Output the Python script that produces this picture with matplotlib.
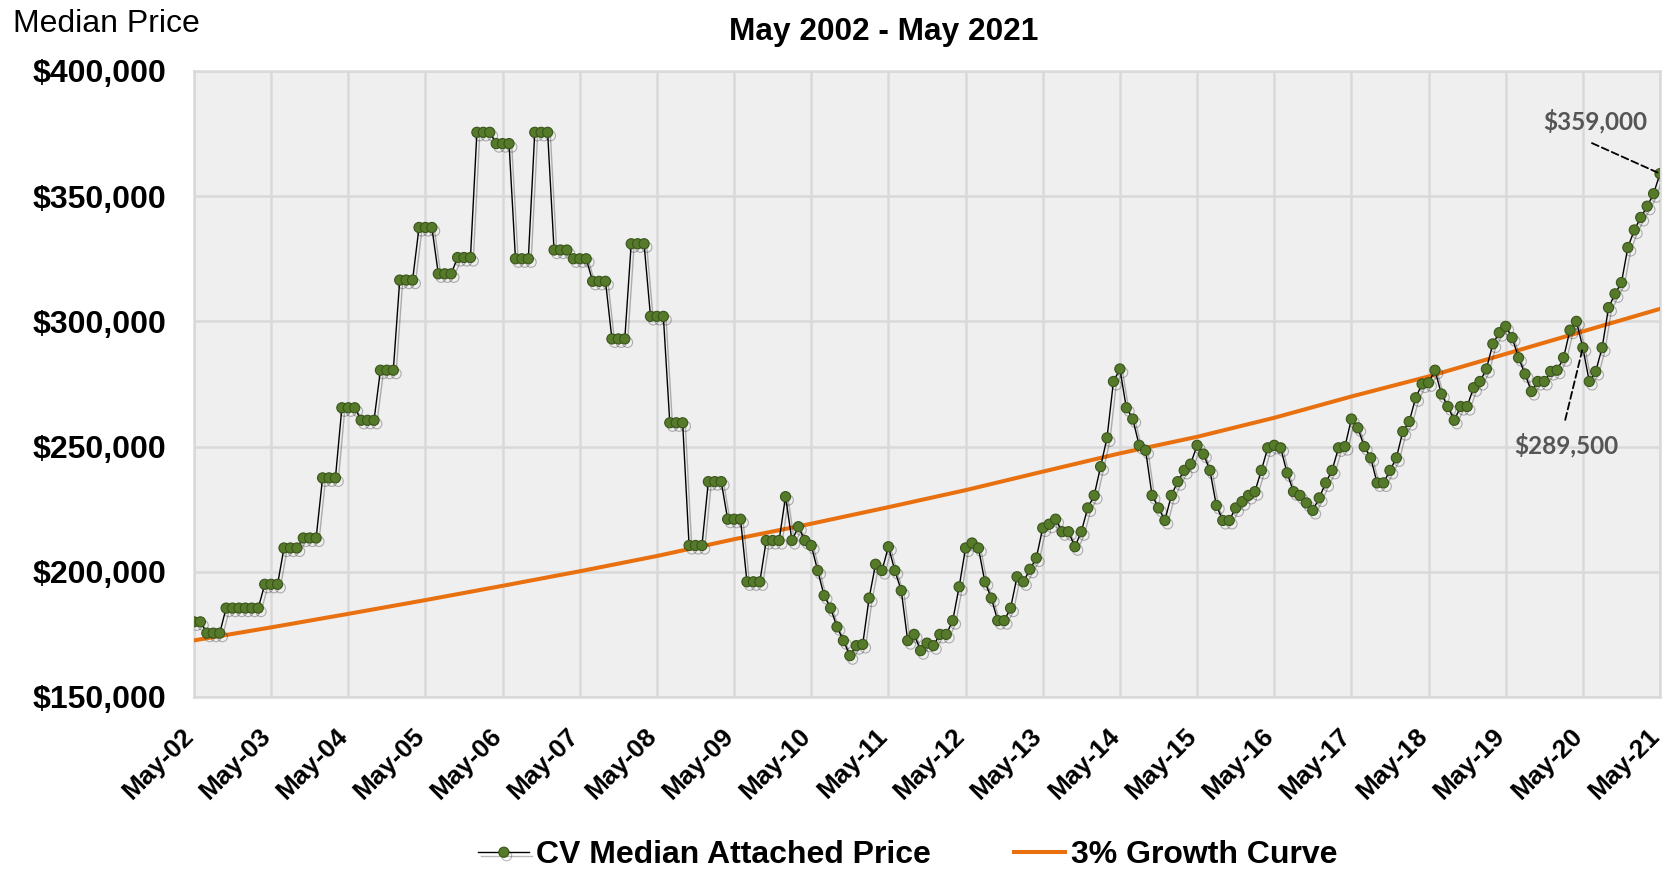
import numpy as np
import matplotlib
matplotlib.use("Agg")
import matplotlib.pyplot as plt
import matplotlib.patheffects as pe
import matplotlib.transforms as mtransforms
from matplotlib.ticker import FuncFormatter

plt.rcParams['font.family'] = ['Liberation Sans', 'DejaVu Sans']

# monthly median attached price, May-02 .. May-21 (one row per May-Apr year)
price = [
    180000, 180000, 175500, 175500, 175500, 185500, 185500, 185500, 185500, 185500, 185500, 195000,
    195000, 195000, 209500, 209500, 209500, 213500, 213500, 213500, 237500, 237500, 237500, 265500,
    265500, 265500, 260500, 260500, 260500, 280500, 280500, 280500, 316500, 316500, 316500, 337500,
    337500, 337500, 319000, 319000, 319000, 325500, 325500, 325500, 375500, 375500, 375500, 371000,
    371000, 371000, 325000, 325000, 325000, 375500, 375500, 375500, 328500, 328500, 328500, 325000,
    325000, 325000, 316000, 316000, 316000, 293000, 293000, 293000, 331000, 331000, 331000, 302000,
    302000, 302000, 259500, 259500, 259500, 210500, 210500, 210500, 236000, 236000, 236000, 221000,
    221000, 221000, 196000, 196000, 196000, 212500, 212500, 212500, 230000, 212500, 218000, 212500,
    210500, 200500, 190500, 185500, 178000, 172500, 166500, 170500, 171000, 189500, 203000, 200500,
    210000, 200500, 192500, 172500, 175000, 168500, 171500, 170500, 175000, 175000, 180500, 194000,
    209500, 211500, 209500, 196000, 189500, 180500, 180500, 185500, 198000, 196000, 201000, 205500,
    217500, 219000, 221000, 216000, 216000, 210000, 216000, 225500, 230500, 242000, 253500, 276000,
    281000, 265500, 261000, 250500, 248500, 230500, 225500, 220500, 230500, 236000, 240500, 243000,
    250500, 247000, 240500, 226500, 220500, 220500, 225500, 228000, 230500, 232000, 240500, 249500,
    250500, 249500, 239500, 232000, 230500, 227500, 224500, 229500, 235500, 240500, 249500, 250000,
    261000, 257500, 250000, 245500, 235500, 235500, 240500, 245500, 256000, 260000, 269500, 275000,
    275500, 280500, 271000, 266000, 260500, 266000, 266000, 273500, 276000, 281000, 291000, 295500,
    298000, 293500, 285500, 279000, 272000, 276000, 276000, 280000, 280500, 285500, 296500, 300000,
    289500, 276000, 280000, 289500, 305500, 311000, 315500, 329500, 336500, 341500, 346000, 351000,
    359000,
]

# 3% growth curve, read at each May
growth = [172600, 177800, 183200, 188700, 194400, 200200, 206300, 213000, 219200, 225800,
          232600, 240000, 247300, 253900, 261500, 270000, 278000, 287000, 296000, 305000]

year_labels = ['May-02', 'May-03', 'May-04', 'May-05', 'May-06', 'May-07', 'May-08',
               'May-09', 'May-10', 'May-11', 'May-12', 'May-13', 'May-14', 'May-15',
               'May-16', 'May-17', 'May-18', 'May-19', 'May-20', 'May-21']

labels = ['CV Median Attached Price', '3% Growth Curve']
callouts = [(216, '$289,500'), (228, '$359,000')]

months = np.arange(len(price))
year_pos = np.arange(len(year_labels)) * 12

fig = plt.figure(figsize=(16.65, 8.72), dpi=100)
ax = fig.add_axes([0.1165, 0.2007, 0.8805, 0.7179])
ax.set_facecolor('#efefef')

l2, = ax.plot(year_pos, growth, color='#e8700f', lw=2.9, zorder=3)
l1, = ax.plot(months, price, color='black', lw=1.0, marker='o', markersize=7.3,
              markerfacecolor='#557a2a', markeredgecolor='#3a541c', markeredgewidth=0.8,
              zorder=4,
              path_effects=[pe.SimpleLineShadow(offset=(2, -2.5), alpha=0.28), pe.Normal()])

ax.set_xlim(0, len(price) - 1)
ax.set_ylim(150000, 400000)
ax.set_xticks(year_pos)
ax.set_xticklabels(year_labels, rotation=45, ha='right', va='top', rotation_mode='anchor',
                   fontsize=19, fontweight='bold')
ax.set_yticks(np.arange(150000, 400001, 50000))
ax.yaxis.set_major_formatter(FuncFormatter(lambda v, p: f"${v:,.0f}"))
for t in ax.get_yticklabels():
    t.set_fontsize(23)
    t.set_fontweight('bold')
ax.tick_params(axis='y', length=0, pad=20)
ax.tick_params(axis='x', length=0, pad=6)
# nudge the rotated month labels down-left like the original
shift = mtransforms.ScaledTranslation(-0.13, -0.19, fig.dpi_scale_trans)
for t in ax.get_xticklabels():
    t.set_transform(t.get_transform() + shift)
ax.grid(True, color='#d9d9d9', lw=1.8)
ax.set_axisbelow(True)
for s in ax.spines.values():
    s.set_color('#d9d9d9')
    s.set_linewidth(1.8)

# callouts with dashed leaders
offs = {'$289,500': ((-12.7, -52), (-12, -70)), '$359,000': ((-49, 22), (-47, 38))}
for m, txt in callouts:
    lead, tpos = offs[txt]
    ax.annotate('', xy=(m, price[m]), xytext=lead, textcoords='offset points',
                arrowprops=dict(arrowstyle='-', color='black', lw=1.3, linestyle=(0, (4, 2)),
                                shrinkA=0, shrinkB=2), zorder=5)
    ax.annotate(txt, xy=(m, price[m]), xytext=tpos, textcoords='offset points',
                ha='center', va='center', fontsize=17.5, color='#555555', fontweight='bold',
                family=['Lato', 'DejaVu Sans'], zorder=5)

fig.text(0.008, 1 - 24 / 872, 'Median Price', fontsize=23, ha='left', va='center')
fig.text(884 / 1665, 1 - 32 / 872, 'May 2002 - May 2021', fontsize=22.8, fontweight='bold',
         ha='center', va='center')

fig.legend([l1, l2], labels, loc='center', bbox_to_anchor=(908 / 1665, 0.019), ncol=2,
           frameon=False, prop=dict(weight='bold', size=23), handlelength=1.6,
           handletextpad=0.2, columnspacing=2.6, numpoints=1)

fig.savefig('out.png', dpi=100)
